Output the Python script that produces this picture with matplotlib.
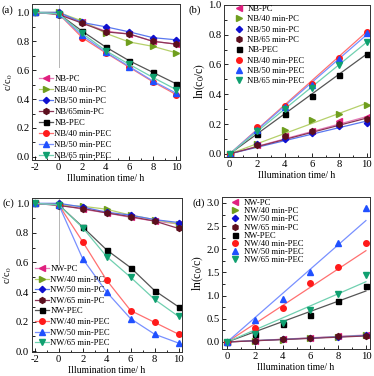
import numpy as np
import matplotlib
matplotlib.use("Agg")
import matplotlib.pyplot as plt
from matplotlib.ticker import MultipleLocator, AutoMinorLocator

plt.rcParams['font.family'] = ['Liberation Serif', 'DejaVu Serif']
plt.rcParams['mathtext.fontset'] = 'stix'
plt.rcParams['axes.unicode_minus'] = False

# ---------------- data ----------------
t_full = [-2, 0, 2, 4, 6, 8, 10]
t_ln = [0, 2, 4, 6, 8, 10]

nb_labels_a = ["NB-PC", "NB/40 min-PC", "NB/50 min-PC", "NB/65min-PC",
               "NB-PEC", "NB/40 min-PEC", "NB/50 min-PEC", "NB/65 min-PEC"]
nb_labels_b = ["NB-PC", "NB/40 min-PC", "NB/50 min-PC", "NB/65 min-PC",
               "NB-PEC", "NB/40 min-PEC", "NB/50 min-PEC", "NB/65 min-PEC"]
nw_labels = ["NW-PC", "NW/40 min-PC", "NW/50 min-PC", "NW/65 min-PC",
             "NW-PEC", "NW/40 min-PEC", "NW/50 min-PEC", "NW/65 min-PEC"]

nb_c = [
    [1.0, 0.99, 0.93, 0.87, 0.85, 0.80, 0.78],
    [1.0, 1.0, 0.94, 0.855, 0.795, 0.765, 0.72],
    [1.0, 1.0, 0.93, 0.90, 0.865, 0.825, 0.81],
    [1.0, 0.985, 0.925, 0.865, 0.85, 0.80, 0.78],
    [1.0, 0.99, 0.87, 0.76, 0.665, 0.585, 0.505],
    [1.0, 0.99, 0.825, 0.72, 0.62, 0.52, 0.43],
    [1.0, 0.99, 0.84, 0.725, 0.625, 0.525, 0.44],
    [1.0, 0.99, 0.855, 0.735, 0.64, 0.55, 0.465],
]
nb_ln = [
    [0, 0.06, 0.12, 0.15, 0.22, 0.25],
    [0, 0.065, 0.16, 0.23, 0.27, 0.33],
    [0, 0.065, 0.10, 0.14, 0.185, 0.205],
    [0, 0.06, 0.12, 0.15, 0.20, 0.235],
    [0, 0.135, 0.265, 0.39, 0.53, 0.67],
    [0, 0.18, 0.32, 0.47, 0.645, 0.82],
    [0, 0.16, 0.315, 0.46, 0.64, 0.81],
    [0, 0.15, 0.30, 0.445, 0.595, 0.75],
]
nb_fit_end = [0.25, 0.34, 0.22, 0.24, 0.67, 0.82, 0.80, 0.75]

nw_c = [
    [1.0, 0.99, 0.96, 0.935, 0.905, 0.88, 0.86],
    [1.0, 0.99, 0.98, 0.96, 0.92, 0.89, 0.86],
    [1.0, 1.0, 0.975, 0.94, 0.92, 0.89, 0.87],
    [1.0, 0.985, 0.965, 0.935, 0.91, 0.88, 0.83],
    [1.0, 0.99, 0.84, 0.685, 0.565, 0.41, 0.30],
    [1.0, 0.99, 0.74, 0.48, 0.275, 0.195, 0.115],
    [1.0, 0.99, 0.625, 0.40, 0.22, 0.115, 0.055],
    [1.0, 0.99, 0.835, 0.64, 0.50, 0.35, 0.235],
]
nw_ln = [
    [0, 0.03, 0.06, 0.08, 0.12, 0.15],
    [0, 0.02, 0.04, 0.08, 0.11, 0.15],
    [0, 0.02, 0.06, 0.08, 0.11, 0.14],
    [0, 0.03, 0.06, 0.09, 0.12, 0.13],
    [0, 0.17, 0.39, 0.58, 0.89, 1.20],
    [0, 0.30, 0.73, 1.28, 1.62, 2.14],
    [0, 0.47, 0.92, 1.50, 2.13, 2.90],
    [0, 0.18, 0.42, 0.68, 1.04, 1.44],
]
nw_fit_end = [0.15, 0.14, 0.14, 0.13, 1.10, 1.97, 2.62, 1.30]

# ---------------- styles ----------------
mcolors = ['#e0207f', '#6f9e1e', '#1010d0', '#5c0f1e', '#000000', '#ff1a1a', '#2050ff', '#10a070']
lcolors = ['#e67ab8', '#b5d06a', '#5a78f0', '#8a3555', '#555555', '#ff7070', '#7890ff', '#70d0b0']
markers = ['<', '>', 'D', 'h', 's', 'o', '^', 'v']
msizes = [4.2, 4.2, 3.2, 4.2, 3.6, 4.0, 4.0, 4.2]

FS_TICK = 7.7
FS_LAB = 6.9
FS_LEG = 6.2
fig = plt.figure(figsize=(3.74, 3.76), dpi=100)

def style_axes(ax):
    ax.tick_params(direction='in', which='both', labelsize=FS_TICK, top=False, right=False,
                   length=3, width=0.6, pad=2)
    ax.tick_params(which='minor', length=1.8)
    for s in ax.spines.values():
        s.set_linewidth(0.7)
        s.set_color('#333333')
    ax.xaxis.set_minor_locator(AutoMinorLocator(2))
    ax.yaxis.set_minor_locator(AutoMinorLocator(2))
    ax.set_xlabel("Illumination time/ h", fontsize=FS_LAB, labelpad=1.5)

def cplot(ax, data, labels, vy):
    for i in range(8):
        ax.plot(t_full, data[i], color=lcolors[i], lw=0.9, marker=markers[i],
                ms=msizes[i], mfc=mcolors[i], mec=mcolors[i], label=labels[i])
    ax.plot([0, 0], [vy, 1.1], ls=(0, (1.2, 1.2)), color='#555555', lw=0.6)
    ax.set_xlim(-2.25, 10.3)
    ax.xaxis.set_major_locator(MultipleLocator(2))
    ax.yaxis.set_major_locator(MultipleLocator(0.2))
    ax.set_ylabel("c/c$_0$", fontsize=FS_LAB + 0.5, labelpad=1)
    style_axes(ax)

def lnplot(ax, data, fit_end, labels):
    for i in range(8):
        ax.plot([0, 10], [0, fit_end[i]], color=lcolors[i], lw=0.9)
    for i in range(8):
        ax.plot(t_ln, data[i], ls='none', marker=markers[i], ms=msizes[i],
                mfc=mcolors[i], mec=mcolors[i], label=labels[i])
    ax.xaxis.set_major_locator(MultipleLocator(2))
    ax.set_ylabel(r"ln$\left(\mathregular{c_0/c}\right)$", fontsize=FS_LAB + 1.5, labelpad=1)
    style_axes(ax)

# (a)
axa = fig.add_axes([0.086, 0.574, 0.395, 0.415])
cplot(axa, nb_c, nb_labels_a, 0.62)
axa.set_ylim(-0.023, 1.057)
axa.legend(loc='lower left', bbox_to_anchor=(0.045, 0.0), frameon=False, fontsize=FS_LEG,
           handlelength=1.6, handletextpad=0.2, labelspacing=0.34, borderpad=0.0,
           borderaxespad=0.0)
fig.text(0.005, 0.973, "(a)", fontsize=FS_TICK, va='center')

# (b)
axb = fig.add_axes([0.600, 0.583, 0.388, 0.404])
lnplot(axb, nb_ln, nb_fit_end, nb_labels_b)
axb.set_xlim(-0.39, 10.2)
axb.set_ylim(-0.02, 1.0)
axb.yaxis.set_major_locator(MultipleLocator(0.2))
axb.legend(loc='upper left', bbox_to_anchor=(0.075, 1.0), frameon=False, fontsize=FS_LEG,
           handlelength=0.8, handletextpad=0.6, labelspacing=0.27, borderpad=0.0,
           borderaxespad=0.0)
fig.text(0.505, 0.973, "(b)", fontsize=FS_TICK, va='center')

# (c)
axc = fig.add_axes([0.085, 0.064, 0.402, 0.409])
cplot(axc, nw_c, nw_labels, 0.58)
axc.set_ylim(-0.005, 1.035)
axc.legend(loc='lower left', bbox_to_anchor=(0.02, 0.03), frameon=False, fontsize=FS_LEG,
           handlelength=1.6, handletextpad=0.2, labelspacing=0.30, borderpad=0.0,
           borderaxespad=0.0)
fig.text(0.006, 0.46, "(c)", fontsize=FS_TICK, va='center')

# (d)
axd = fig.add_axes([0.594, 0.072, 0.394, 0.403])
lnplot(axd, nw_ln, nw_fit_end, nw_labels)
axd.set_xlim(-0.36, 10.26)
axd.set_ylim(-0.15, 3.12)
axd.yaxis.set_major_locator(MultipleLocator(0.5))
axd.legend(loc='upper left', bbox_to_anchor=(0.064, 0.99), frameon=False, fontsize=FS_LEG,
           handlelength=0.8, handletextpad=0.6, labelspacing=0.02, borderpad=0.0,
           borderaxespad=0.0)
fig.text(0.515, 0.46, "(d)", fontsize=FS_TICK, va='center')

fig.savefig("out.png", dpi=100)
